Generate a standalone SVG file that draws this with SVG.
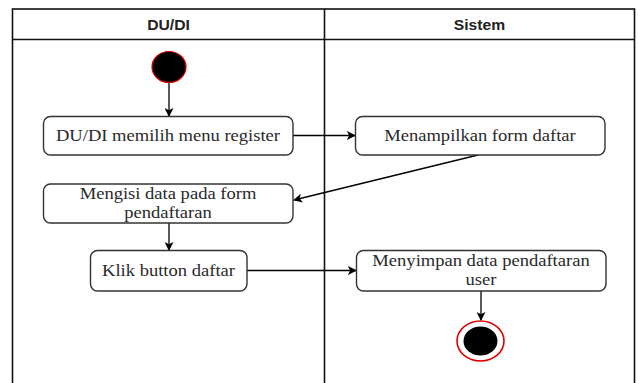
<svg xmlns="http://www.w3.org/2000/svg" width="638" height="383" viewBox="0 0 638 383">
  <style>
    .lane { fill: none; stroke: #111; stroke-width: 1.6; }
    .head { font-family: "Liberation Sans", Arial, Helvetica, sans-serif; font-size: 14px; font-weight: bold; fill: #222; text-anchor: middle; }
    .act { fill: #fff; stroke: #333; stroke-width: 1.4; }
    .lbl { font-family: "Liberation Serif", "Times New Roman", Tinos, "DejaVu Serif", serif; font-size: 16px; fill: #2a2a2a; text-anchor: middle; }
    .flow { fill: none; stroke: #000; stroke-width: 1.3; marker-end: url(#arrow); }
  </style>
  <defs>
    <marker id="arrow" viewBox="0 0 10 10" refX="9" refY="5" markerWidth="9" markerHeight="9" markerUnits="userSpaceOnUse" orient="auto">
      <path d="M0,0 L10,5 L0,10 L2.5,5 Z" fill="#000"/>
    </marker>
  </defs>

  <rect width="638" height="383" fill="#fff"/>

  <!-- swimlanes -->
  <g id="lanes">
    <rect class="lane" x="12.5" y="9" width="622" height="400"/>
    <line class="lane" x1="12.5" y1="39.5" x2="634.5" y2="39.5"/>
    <line class="lane" x1="324.5" y1="9" x2="324.5" y2="390"/>
    <text class="head" transform="translate(168.5,29.5) scale(1.12,1)">DU/DI</text>
    <text class="head" transform="translate(479.5,29.5) scale(1.12,1)">Sistem</text>
  </g>

  <!-- connectors -->
  <g id="connectors">
    <line class="flow" x1="169" y1="83" x2="169" y2="116"/>
    <line class="flow" x1="293" y1="135.5" x2="355" y2="135.5"/>
    <line class="flow" x1="478" y1="155" x2="294" y2="200"/>
    <line class="flow" x1="169" y1="223" x2="169" y2="250"/>
    <line class="flow" x1="247" y1="270.5" x2="356" y2="270.5"/>
    <line class="flow" x1="481" y1="291" x2="481" y2="320"/>
  </g>

  <g id="start">
    <ellipse cx="169" cy="67" rx="17" ry="15.5" fill="#000" stroke="#e00000" stroke-width="1.2"/>
  </g>

  <g id="pilih-menu">
    <rect class="act" x="43.5" y="116.5" width="249.5" height="38.5" rx="7"/>
    <text class="lbl" transform="translate(168,141) scale(1.16,1)">DU/DI memilih menu register</text>
  </g>

  <g id="tampil-form">
    <rect class="act" x="355.5" y="116.5" width="249.5" height="38.5" rx="7"/>
    <text class="lbl" transform="translate(480,141) scale(1.16,1)">Menampilkan form daftar</text>
  </g>

  <g id="isi-data">
    <rect class="act" x="43.5" y="184" width="249.5" height="39" rx="7"/>
    <text class="lbl" transform="translate(168,199) scale(1.16,1)">Mengisi data pada form</text>
    <text class="lbl" transform="translate(168,218) scale(1.16,1)">pendaftaran</text>
  </g>

  <g id="klik-daftar">
    <rect class="act" x="90.5" y="250.5" width="156.5" height="40.5" rx="7"/>
    <text class="lbl" transform="translate(168.5,276) scale(1.16,1)">Klik button daftar</text>
  </g>

  <g id="simpan-data">
    <rect class="act" x="356.5" y="250.5" width="249.5" height="40.5" rx="7"/>
    <text class="lbl" transform="translate(481,266) scale(1.16,1)">Menyimpan data pendaftaran</text>
    <text class="lbl" transform="translate(481,285) scale(1.16,1)">user</text>
  </g>

  <g id="end">
    <ellipse cx="480.5" cy="341" rx="23.5" ry="20" fill="#fff" stroke="#e00000" stroke-width="1.6"/>
    <ellipse cx="480.5" cy="341" rx="17" ry="14.5" fill="#000"/>
  </g>
</svg>
